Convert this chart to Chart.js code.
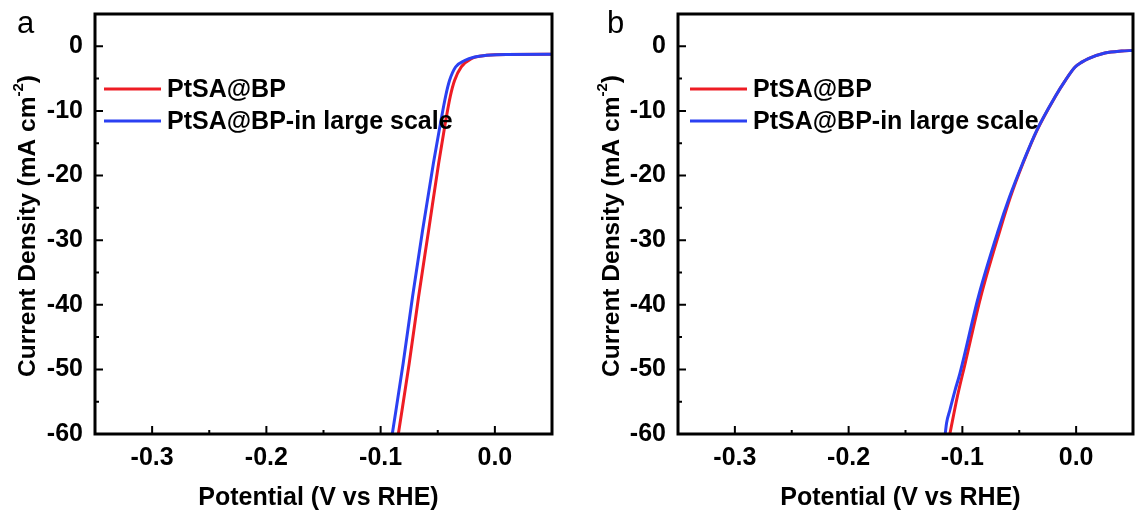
<!DOCTYPE html>
<html>
<head>
<meta charset="utf-8">
<script src="https://cdn.jsdelivr.net/npm/chart.js@4.4.0/dist/chart.umd.min.js"></script>
<style>
  body { margin: 0; background: #fff; }
  .panel { position: absolute; top: 0; }
</style>
</head>
<body>
<div class="panel" style="left:0"><canvas id="chartA" width="568" height="514"></canvas></div>
<div class="panel" style="left:568px"><canvas id="chartB" width="569" height="514"></canvas></div>
<script>
// axis ticks
const xTicks = [-0.3, -0.2, -0.1, 0.0];
const xMinor = [-0.25, -0.15, -0.05];
const yTicks = [-60, -50, -40, -30, -20, -10, 0];
const yMinor = [-55, -45, -35, -25, -15, -5];

const seriesNames = ['PtSA@BP', 'PtSA@BP-in large scale'];

// panel a: potential (V vs RHE) / current density (mA cm-2)
const aRedV  = [-0.0845, -0.075, -0.0668, -0.058, -0.0492, -0.0435, -0.0391, -0.0353, -0.0294, -0.0206, -0.0073, 0.010, 0.050];
const aRedJ  = [-60, -49.1, -38.8, -28.5, -18.1, -12.0, -7.8, -5.3, -3.2, -1.9, -1.4, -1.25, -1.24];
const aBlueV = [-0.0898, -0.0803, -0.0721, -0.0633, -0.0538, -0.0477, -0.0432, -0.0397, -0.0344, -0.0265, -0.0177, -0.0073, 0.010, 0.050];
const aBlueJ = [-60, -49.1, -38.8, -28.5, -18.1, -12.0, -7.8, -5.3, -3.2, -2.2, -1.65, -1.4, -1.25, -1.24];

// panel b
const bRedV  = [-0.111, -0.1044, -0.0976, -0.0839, -0.067, -0.0577, -0.0467, -0.0344, -0.0184, -0.0096, -0.0009, 0.005, 0.0108, 0.0253, 0.040, 0.050];
const bRedJ  = [-60, -54.2, -49.1, -38.8, -28.5, -23.3, -18.1, -13.0, -7.8, -5.3, -3.2, -2.45, -1.9, -1.03, -0.72, -0.65];
const bBlueV = [-0.1151, -0.1139, -0.111, -0.1064, -0.1029, -0.100, -0.086, -0.0685, -0.0585, -0.0470, -0.0346, -0.0185, -0.0096, -0.0009, 0.005, 0.0108, 0.0253, 0.040, 0.050];
const bBlueJ = [-60, -58.3, -56.3, -53.2, -51.1, -49.1, -38.8, -28.5, -23.3, -18.1, -13.0, -7.8, -5.3, -3.2, -2.45, -1.9, -1.03, -0.72, -0.65];

const RED = '#ee1c24';
const BLUE = '#2b40f2';
const FONT = "'Liberation Sans', Arial, sans-serif";

function pts(xs, ys) {
    return xs.map((v, i) => ({ x: v, y: ys[i] }));
}

const decor = {
    id: 'decor',
    afterDraw(chart, args, o) {
        const { ctx, chartArea: a, scales: { x, y } } = chart;
        ctx.save();
        ctx.strokeStyle = '#000';

        // ticks point inward
        ctx.lineWidth = 2;
        ctx.beginPath();
        xTicks.forEach(v => { const p = x.getPixelForValue(v); ctx.moveTo(p, a.bottom); ctx.lineTo(p, a.bottom - 8); });
        xMinor.forEach(v => { const p = x.getPixelForValue(v); ctx.moveTo(p, a.bottom); ctx.lineTo(p, a.bottom - 4); });
        yTicks.forEach(v => { const p = y.getPixelForValue(v); ctx.moveTo(a.left, p); ctx.lineTo(a.left + 8, p); });
        yMinor.forEach(v => { const p = y.getPixelForValue(v); ctx.moveTo(a.left, p); ctx.lineTo(a.left + 4, p); });
        ctx.stroke();

        ctx.lineWidth = 3;
        ctx.strokeRect(a.left, a.top, a.right - a.left, a.bottom - a.top);

        // legend
        ctx.font = 'bold 25px ' + FONT;
        ctx.textBaseline = 'middle';
        ctx.textAlign = 'left';
        ctx.fillStyle = '#000';
        chart.data.datasets.forEach((ds, i) => {
            const ly = o.legendY + i * 32;
            ctx.strokeStyle = ds.borderColor;
            ctx.lineWidth = 3;
            ctx.beginPath();
            ctx.moveTo(a.left + o.legendX, ly);
            ctx.lineTo(a.left + o.legendX + 57, ly);
            ctx.stroke();
            ctx.fillText(ds.label, a.left + o.legendX + 63, ly + 1);
        });

        // x title
        ctx.textAlign = 'center';
        ctx.fillText('Potential (V vs RHE)', (a.left + a.right) / 2 - 5, 498);

        // y title with superscript
        ctx.save();
        ctx.translate(o.yTitleX, 226);
        ctx.rotate(-Math.PI / 2);
        ctx.textAlign = 'left';
        const t1 = 'Current Density (mA cm', t2 = '-2', t3 = ')';
        ctx.font = 'bold 24.5px ' + FONT;
        const w1 = ctx.measureText(t1).width, w3 = ctx.measureText(t3).width;
        ctx.font = 'bold 15px ' + FONT;
        const w2 = ctx.measureText(t2).width;
        let sx = -(w1 + w2 + w3) / 2;
        ctx.font = 'bold 24.5px ' + FONT;
        ctx.fillText(t1, sx, 0);
        ctx.font = 'bold 15px ' + FONT;
        ctx.fillText(t2, sx + w1, -9);
        ctx.font = 'bold 24.5px ' + FONT;
        ctx.fillText(t3, sx + w1 + w2, 0);
        ctx.restore();

        // panel letter
        ctx.font = '31px ' + FONT;
        ctx.textAlign = 'left';
        ctx.textBaseline = 'alphabetic';
        ctx.fillText(o.letter, o.letterX, 33);
        ctx.restore();
    }
};

function noPad(s) {
    s.paddingTop = 0;
    s.paddingBottom = 0;
    s.paddingLeft = 0;
    s.paddingRight = 0;
}

function makeChart(id, red, blue, opt) {
    const ctx = document.getElementById(id).getContext('2d');
    return new Chart(ctx, {
        type: 'line',
        data: {
            datasets: [
                { label: seriesNames[0], data: red, borderColor: RED, borderWidth: 3, pointRadius: 0, cubicInterpolationMode: 'monotone', order: 2 },
                { label: seriesNames[1], data: blue, borderColor: BLUE, borderWidth: 3, pointRadius: 0, cubicInterpolationMode: 'monotone', order: 1 },
            ],
        },
        options: {
            responsive: false,
            animation: false,
            layout: { padding: { top: 14, right: opt.padRight, left: 0, bottom: 0 } },
            plugins: {
                legend: { display: false },
                tooltip: { enabled: false },
                decor: opt.decor,
            },
            scales: {
                x: {
                    type: 'linear',
                    min: -0.35,
                    max: 0.05,
                    grid: { display: false, drawTicks: false, tickLength: 0 },
                    border: { display: false },
                    afterBuildTicks: s => { s.ticks = xTicks.map(v => ({ value: v })); },
                    afterFit: s => { s.height = 80; noPad(s); },
                    ticks: {
                        padding: 9,
                        color: '#000',
                        maxRotation: 0,
                        font: { family: FONT, size: 25, weight: 'bold' },
                        callback: v => v.toFixed(1),
                    },
                },
                y: {
                    min: -60,
                    max: 5,
                    grid: { display: false, drawTicks: false, tickLength: 0 },
                    border: { display: false },
                    afterBuildTicks: s => { s.ticks = yTicks.map(v => ({ value: v })); },
                    afterFit: s => { s.width = opt.yWidth; noPad(s); },
                    ticks: {
                        padding: 12,
                        color: '#000',
                        font: { family: FONT, size: 25, weight: 'bold' },
                        callback: v => String(v),
                    },
                },
            },
        },
        plugins: [decor],
    });
}

makeChart('chartA', pts(aRedV, aRedJ), pts(aBlueV, aBlueJ), {
    padRight: 16, yWidth: 95,
    decor: { letter: 'a', letterX: 17, yTitleX: 28, legendX: 9, legendY: 89 },
});
makeChart('chartB', pts(bRedV, bRedJ), pts(bBlueV, bBlueJ), {
    padRight: 4, yWidth: 110,
    decor: { letter: 'b', letterX: 39, yTitleX: 44, legendX: 12, legendY: 89 },
});
</script>
</body>
</html>
